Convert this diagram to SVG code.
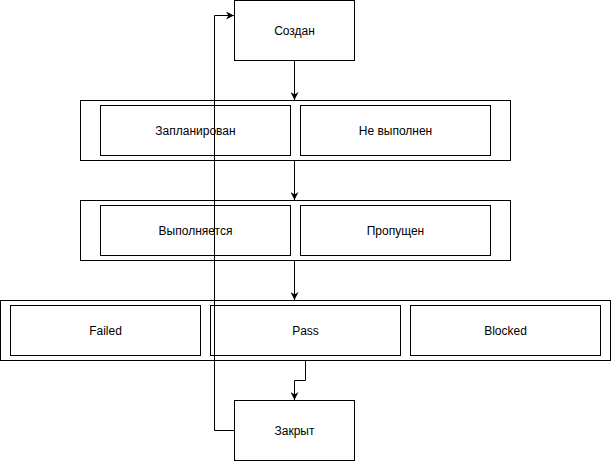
<svg xmlns="http://www.w3.org/2000/svg" width="611" height="461" viewBox="0 0 611 461">
  <style>
    .box { fill: #ffffff; stroke: #000000; stroke-width: 1; }
    .lbl { font-family: "Liberation Sans", Arial, Helvetica, sans-serif; font-size: 12px; fill: #000000; text-anchor: middle; dominant-baseline: central; }
    .edge { fill: none; stroke: #000000; stroke-width: 1; }
  </style>
  <defs>
    <marker id="arrow" viewBox="0 0 10 10" refX="10" refY="5" markerWidth="8" markerHeight="8" markerUnits="userSpaceOnUse" orient="auto">
      <path d="M0,0 L10,5 L0,10 L3,5 Z" fill="#000000"/>
    </marker>
  </defs>
  <rect width="611" height="461" fill="#ffffff"/>

  <g id="created">
    <rect class="box" x="234.5" y="0.5" width="120" height="60"/>
    <text class="lbl" x="294.5" y="30.5">Создан</text>
  </g>

  <g id="group-planned">
    <rect class="box" x="80.5" y="100.5" width="430" height="60"/>
    <g id="planned">
      <rect class="box" x="100.5" y="105.5" width="190" height="50"/>
      <text class="lbl" x="195.5" y="130.5">Запланирован</text>
    </g>
    <g id="not-done">
      <rect class="box" x="300.5" y="105.5" width="190" height="50"/>
      <text class="lbl" x="395.5" y="130.5">Не выполнен</text>
    </g>
  </g>

  <g id="group-running">
    <rect class="box" x="80.5" y="200.5" width="430" height="60"/>
    <g id="running">
      <rect class="box" x="100.5" y="205.5" width="190" height="50"/>
      <text class="lbl" x="195.5" y="230.5">Выполняется</text>
    </g>
    <g id="skipped">
      <rect class="box" x="300.5" y="205.5" width="190" height="50"/>
      <text class="lbl" x="395.5" y="230.5">Пропущен</text>
    </g>
  </g>

  <g id="group-result">
    <rect class="box" x="0.5" y="300.5" width="610" height="60"/>
    <g id="failed">
      <rect class="box" x="10.5" y="305.5" width="190" height="50"/>
      <text class="lbl" x="105.5" y="330.5">Failed</text>
    </g>
    <g id="pass">
      <rect class="box" x="210.5" y="305.5" width="190" height="50"/>
      <text class="lbl" x="305.5" y="330.5">Pass</text>
    </g>
    <g id="blocked">
      <rect class="box" x="410.5" y="305.5" width="190" height="50"/>
      <text class="lbl" x="505.5" y="330.5">Blocked</text>
    </g>
  </g>

  <g id="closed">
    <rect class="box" x="234.5" y="400.5" width="120" height="60"/>
    <text class="lbl" x="294.5" y="430.5">Закрыт</text>
  </g>

  <g id="connectors">
    <path class="edge" d="M294.5,60.5 V100" marker-end="url(#arrow)"/>
    <path class="edge" d="M294.5,160.5 V200" marker-end="url(#arrow)"/>
    <path class="edge" d="M294.5,260.5 V300" marker-end="url(#arrow)"/>
    <path class="edge" d="M305.5,360.5 V380.5 H294.5 V400" marker-end="url(#arrow)"/>
    <path class="edge" d="M234.5,430.5 H214.5 V15.5 H234" marker-end="url(#arrow)"/>
  </g>
</svg>
